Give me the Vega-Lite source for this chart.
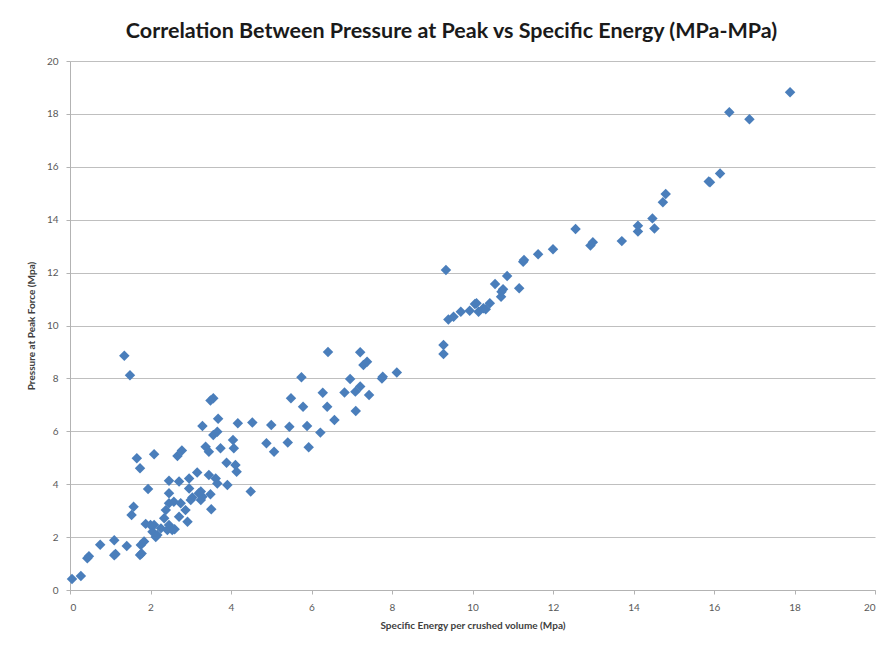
{
  "$schema": "https://vega.github.io/schema/vega-lite/v6.json",
  "autosize": {"type": "none"},
  "width": 805,
  "height": 529,
  "padding": {"left": 70, "top": 61, "right": 8, "bottom": 59},
  "background": "white",
  "title": {
    "text": "Correlation Between Pressure at Peak vs Specific Energy (MPa-MPa)",
    "font": "Lato",
    "fontSize": 21.5,
    "fontWeight": "bold",
    "color": "#1a1a1a",
    "anchor": "middle",
    "dx": -21,
    "offset": 14
  },
  "config": {
    "view": {"stroke": null},
    "axis": {
      "labelFont": "Lato",
      "labelFontSize": 10,
      "labelColor": "#595959",
      "titleFont": "Lato",
      "titleFontSize": 10,
      "titleFontWeight": "bold",
      "titleColor": "#404040",
      "domainColor": "#b3b3b3",
      "tickColor": "#b3b3b3",
      "gridColor": "#bfbfbf",
      "tickSize": 4
    }
  },
  "data": {
    "values": [
      {"x": 0.05, "y": 0.42}, {"x": 0.27, "y": 0.53}, {"x": 0.43, "y": 1.2}, {"x": 0.47, "y": 1.28},
      {"x": 0.75, "y": 1.71}, {"x": 1.1, "y": 1.88}, {"x": 1.1, "y": 1.31}, {"x": 1.13, "y": 1.36},
      {"x": 1.41, "y": 1.66}, {"x": 1.74, "y": 1.32}, {"x": 1.78, "y": 1.38}, {"x": 1.76, "y": 1.7},
      {"x": 1.84, "y": 1.83}, {"x": 1.88, "y": 2.5}, {"x": 2.05, "y": 2.2}, {"x": 2.17, "y": 2.08},
      {"x": 2.09, "y": 2.46}, {"x": 2.0, "y": 2.46}, {"x": 2.13, "y": 2.0}, {"x": 2.26, "y": 2.33},
      {"x": 1.53, "y": 2.84}, {"x": 1.58, "y": 3.15}, {"x": 1.94, "y": 3.82}, {"x": 1.66, "y": 4.98},
      {"x": 1.74, "y": 4.6}, {"x": 2.09, "y": 5.13}, {"x": 1.35, "y": 8.86}, {"x": 1.49, "y": 8.12},
      {"x": 2.34, "y": 2.71}, {"x": 2.38, "y": 3.02}, {"x": 2.46, "y": 2.46}, {"x": 2.54, "y": 2.27},
      {"x": 2.42, "y": 2.27}, {"x": 2.6, "y": 2.3}, {"x": 2.46, "y": 3.28}, {"x": 2.46, "y": 3.66},
      {"x": 2.46, "y": 4.13}, {"x": 2.58, "y": 3.34}, {"x": 2.71, "y": 2.77}, {"x": 2.75, "y": 3.28},
      {"x": 2.87, "y": 3.02}, {"x": 2.92, "y": 2.58}, {"x": 2.67, "y": 5.07}, {"x": 2.78, "y": 5.27},
      {"x": 2.71, "y": 4.1}, {"x": 2.96, "y": 4.22}, {"x": 2.96, "y": 3.84}, {"x": 3.04, "y": 3.5},
      {"x": 3.0, "y": 3.4}, {"x": 3.16, "y": 4.44}, {"x": 3.25, "y": 3.72}, {"x": 3.29, "y": 3.53},
      {"x": 3.2, "y": 3.66}, {"x": 3.25, "y": 3.4}, {"x": 3.29, "y": 6.2}, {"x": 3.37, "y": 5.42},
      {"x": 3.45, "y": 5.23}, {"x": 3.45, "y": 4.35}, {"x": 3.49, "y": 3.62}, {"x": 3.51, "y": 3.05},
      {"x": 3.49, "y": 7.16}, {"x": 3.56, "y": 7.25}, {"x": 3.56, "y": 5.86}, {"x": 3.66, "y": 5.98},
      {"x": 3.68, "y": 6.47}, {"x": 3.74, "y": 5.36}, {"x": 3.62, "y": 4.22}, {"x": 3.66, "y": 4.03},
      {"x": 3.89, "y": 4.81}, {"x": 3.91, "y": 3.97}, {"x": 4.05, "y": 5.67}, {"x": 4.07, "y": 5.36},
      {"x": 4.11, "y": 4.73}, {"x": 4.14, "y": 4.47}, {"x": 4.17, "y": 6.3}, {"x": 4.49, "y": 3.72},
      {"x": 4.53, "y": 6.33}, {"x": 4.88, "y": 5.55}, {"x": 5.0, "y": 6.24}, {"x": 5.07, "y": 5.23},
      {"x": 5.41, "y": 5.58}, {"x": 5.45, "y": 6.17}, {"x": 5.49, "y": 7.25}, {"x": 5.75, "y": 8.04},
      {"x": 5.79, "y": 6.93}, {"x": 5.89, "y": 6.2}, {"x": 5.93, "y": 5.4}, {"x": 6.22, "y": 5.95},
      {"x": 6.28, "y": 7.46}, {"x": 6.39, "y": 6.93}, {"x": 6.41, "y": 9.0}, {"x": 6.57, "y": 6.43},
      {"x": 6.82, "y": 7.47}, {"x": 6.96, "y": 7.98}, {"x": 7.09, "y": 7.5}, {"x": 7.1, "y": 6.77},
      {"x": 7.21, "y": 7.69}, {"x": 7.21, "y": 8.99}, {"x": 7.29, "y": 8.51}, {"x": 7.38, "y": 8.63},
      {"x": 7.43, "y": 7.37}, {"x": 7.75, "y": 8.0}, {"x": 7.77, "y": 8.06}, {"x": 8.12, "y": 8.22},
      {"x": 9.28, "y": 9.26}, {"x": 9.28, "y": 8.92}, {"x": 9.34, "y": 12.1}, {"x": 9.4, "y": 10.23},
      {"x": 9.53, "y": 10.33}, {"x": 9.71, "y": 10.52}, {"x": 9.93, "y": 10.56}, {"x": 10.06, "y": 10.81},
      {"x": 10.15, "y": 10.52}, {"x": 10.27, "y": 10.65}, {"x": 10.1, "y": 10.84}, {"x": 10.43, "y": 10.84},
      {"x": 10.33, "y": 10.61}, {"x": 10.56, "y": 11.57}, {"x": 10.71, "y": 11.09}, {"x": 10.76, "y": 11.37},
      {"x": 10.86, "y": 11.87}, {"x": 10.72, "y": 11.28}, {"x": 11.16, "y": 11.41}, {"x": 11.26, "y": 12.41},
      {"x": 11.28, "y": 12.48}, {"x": 11.63, "y": 12.69}, {"x": 12.0, "y": 12.88}, {"x": 12.56, "y": 13.65},
      {"x": 12.93, "y": 13.02}, {"x": 12.99, "y": 13.15}, {"x": 13.71, "y": 13.19}, {"x": 14.11, "y": 13.55},
      {"x": 14.11, "y": 13.77}, {"x": 14.47, "y": 14.05}, {"x": 14.52, "y": 13.67}, {"x": 14.73, "y": 14.66},
      {"x": 14.8, "y": 14.97}, {"x": 15.87, "y": 15.44}, {"x": 15.9, "y": 15.42}, {"x": 16.15, "y": 15.75},
      {"x": 16.38, "y": 18.06}, {"x": 16.88, "y": 17.8}, {"x": 17.89, "y": 18.82}
    ]
  },
  "mark": {"type": "point", "shape": "diamond", "filled": true, "color": "#4a7ebb", "opacity": 1, "size": 110},
  "encoding": {
    "x": {
      "field": "x",
      "type": "quantitative",
      "scale": {"domain": [0, 20], "nice": false, "zero": true},
      "axis": {"values": [0, 2, 4, 6, 8, 10, 12, 14, 16, 18, 20], "grid": false, "labelPadding": 8, "title": "Specific Energy per crushed volume (Mpa)", "titlePadding": 8}
    },
    "y": {
      "field": "y",
      "type": "quantitative",
      "scale": {"domain": [0, 20], "nice": false},
      "axis": {"values": [0, 2, 4, 6, 8, 10, 12, 14, 16, 18, 20], "grid": true, "labelPadding": 8, "title": "Pressure at Peak Force (Mpa)", "titlePadding": 10}
    }
  }
}
